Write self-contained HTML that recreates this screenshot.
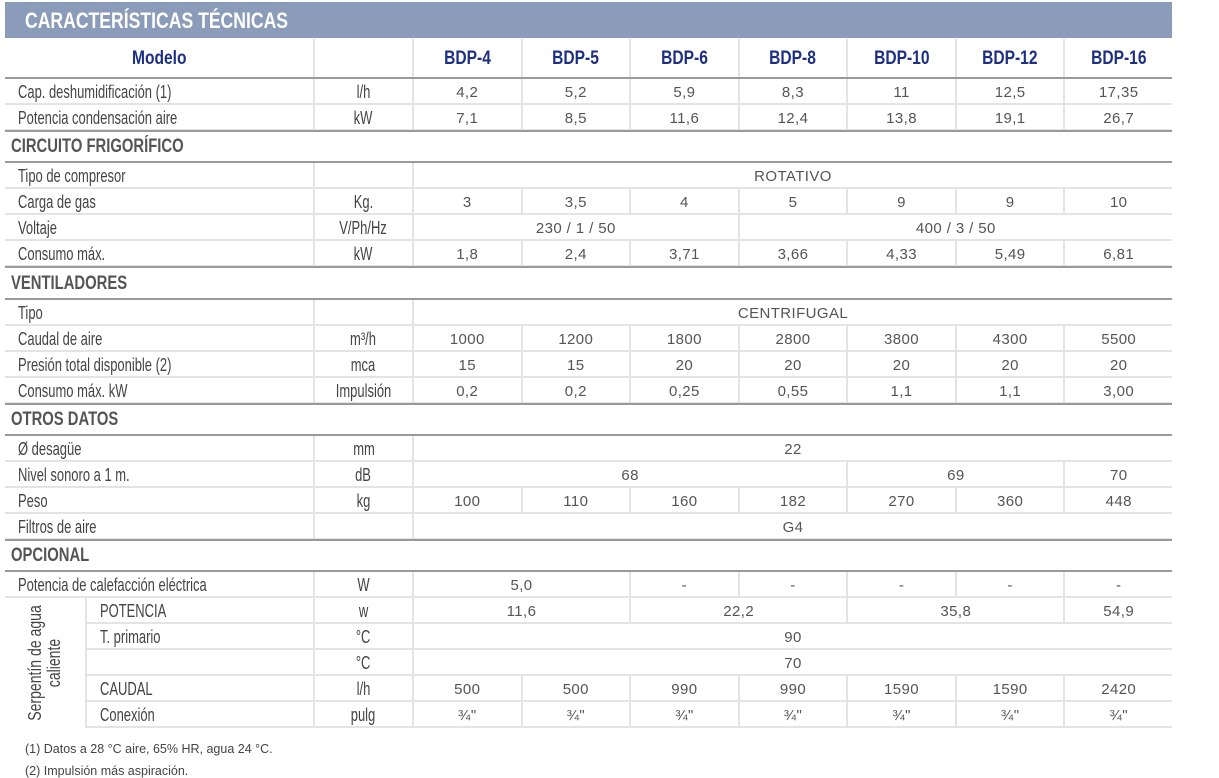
<!DOCTYPE html>
<html><head><meta charset="utf-8">
<style>
body{margin:0;width:1219px;height:778px;background:#fff;position:relative;overflow:hidden;font-family:"Liberation Sans",sans-serif}
.bar{position:absolute;left:5px;top:2px;width:1167px;height:36px;background:#8a9cb9;color:#fff;font-weight:bold;font-size:22px;line-height:38px;padding-left:20px;box-sizing:border-box}
.bar span{display:inline-block;transform:scaleX(.8);transform-origin:left}
.r{position:absolute;left:5px;width:1167px;height:26px;display:flex}
.c{box-sizing:border-box;height:100%;border-left:2px solid #e4e4e4;border-bottom:2px solid #e4e4e4;text-align:center;font-size:15px;color:#555;line-height:27px;letter-spacing:0.4px;white-space:nowrap}
.c:first-child{border-left:none}
.l{width:308px;text-align:left;padding-left:13px;font-size:18px;color:#444;letter-spacing:0}
.l span{display:inline-block;transform:scaleX(.72);transform-origin:left}
.u{width:99px;font-size:18px;color:#444;letter-spacing:0}
.u span{display:inline-block;transform:scaleX(.72);transform-origin:center}
.d{width:108.6px}.d2{width:217.2px}.d3{width:325.8px}.d4{width:434.4px}.d7{width:760px}
.sec{position:absolute;left:5px;width:1167px;font-weight:bold;font-size:19px;color:#555;padding-left:6px;box-sizing:border-box}
.sec span{display:inline-block;transform:scaleX(.78);transform-origin:left}
.ln{position:absolute;left:5px;width:1167px;height:2px;background:#9a9a9a}
.hdr .c{font-weight:bold;font-size:19px;color:#1d2f82;line-height:40px;border-bottom:none;letter-spacing:0}
.hdr .c span{display:inline-block;transform:scaleX(.82)}
.s0{width:80px;border-bottom:none!important}
.sl{width:228px;border-left:2px solid #e4e4e4!important}
.vt{position:absolute;left:5px;top:598px;width:80px;height:130px;display:flex;align-items:center;justify-content:center}
.vt span{transform:rotate(-90deg) scaleX(.78);white-space:nowrap;text-align:center;font-size:18px;color:#444;line-height:19px}
.fn{position:absolute;left:25px;font-size:12.5px;color:#444}
</style></head><body>
<div class="bar"><span>CARACTERÍSTICAS TÉCNICAS</span></div>
<div class="r hdr" style="top:39px;height:38px"><div class="c l" style="text-align:center;padding:0"><span style="transform-origin:center">Modelo</span></div><div class="c u"></div><div class="c d"><span>BDP-4</span></div><div class="c d"><span>BDP-5</span></div><div class="c d"><span>BDP-6</span></div><div class="c d"><span>BDP-8</span></div><div class="c d"><span>BDP-10</span></div><div class="c d"><span>BDP-12</span></div><div class="c d"><span>BDP-16</span></div></div>
<div class="ln" style="top:77px"></div>
<div class="r" style="top:79px"><div class="c l"><span>Cap. deshumidificación (1)</span></div><div class="c u"><span>l/h</span></div><div class="c d">4,2</div><div class="c d">5,2</div><div class="c d">5,9</div><div class="c d">8,3</div><div class="c d">11</div><div class="c d">12,5</div><div class="c d">17,35</div></div>
<div class="r" style="top:105px"><div class="c l"><span>Potencia condensación aire</span></div><div class="c u"><span>kW</span></div><div class="c d">7,1</div><div class="c d">8,5</div><div class="c d">11,6</div><div class="c d">12,4</div><div class="c d">13,8</div><div class="c d">19,1</div><div class="c d">26,7</div></div>
<div class="ln" style="top:130px"></div>
<div class="sec" style="top:136px"><span>CIRCUITO FRIGORÍFICO</span></div>
<div class="ln" style="top:161px"></div>
<div class="r" style="top:163px"><div class="c l"><span>Tipo de compresor</span></div><div class="c u"></div><div class="c d7">ROTATIVO</div></div>
<div class="r" style="top:189px"><div class="c l"><span>Carga de gas</span></div><div class="c u"><span>Kg.</span></div><div class="c d">3</div><div class="c d">3,5</div><div class="c d">4</div><div class="c d">5</div><div class="c d">9</div><div class="c d">9</div><div class="c d">10</div></div>
<div class="r" style="top:215px"><div class="c l"><span>Voltaje</span></div><div class="c u"><span>V/Ph/Hz</span></div><div class="c d3">230 / 1 / 50</div><div class="c d4">400 / 3 / 50</div></div>
<div class="r" style="top:241px"><div class="c l"><span>Consumo máx.</span></div><div class="c u"><span>kW</span></div><div class="c d">1,8</div><div class="c d">2,4</div><div class="c d">3,71</div><div class="c d">3,66</div><div class="c d">4,33</div><div class="c d">5,49</div><div class="c d">6,81</div></div>
<div class="ln" style="top:266px"></div>
<div class="sec" style="top:273px"><span>VENTILADORES</span></div>
<div class="ln" style="top:298px"></div>
<div class="r" style="top:300px"><div class="c l"><span>Tipo</span></div><div class="c u"></div><div class="c d7">CENTRIFUGAL</div></div>
<div class="r" style="top:326px"><div class="c l"><span>Caudal de aire</span></div><div class="c u"><span>m³/h</span></div><div class="c d">1000</div><div class="c d">1200</div><div class="c d">1800</div><div class="c d">2800</div><div class="c d">3800</div><div class="c d">4300</div><div class="c d">5500</div></div>
<div class="r" style="top:352px"><div class="c l"><span>Presión total disponible (2)</span></div><div class="c u"><span>mca</span></div><div class="c d">15</div><div class="c d">15</div><div class="c d">20</div><div class="c d">20</div><div class="c d">20</div><div class="c d">20</div><div class="c d">20</div></div>
<div class="r" style="top:378px"><div class="c l"><span>Consumo máx. kW</span></div><div class="c u"><span>Impulsión</span></div><div class="c d">0,2</div><div class="c d">0,2</div><div class="c d">0,25</div><div class="c d">0,55</div><div class="c d">1,1</div><div class="c d">1,1</div><div class="c d">3,00</div></div>
<div class="ln" style="top:403px"></div>
<div class="sec" style="top:409px"><span>OTROS DATOS</span></div>
<div class="ln" style="top:434px"></div>
<div class="r" style="top:436px"><div class="c l"><span>Ø desagüe</span></div><div class="c u"><span>mm</span></div><div class="c d7">22</div></div>
<div class="r" style="top:462px"><div class="c l"><span>Nivel sonoro a 1 m.</span></div><div class="c u"><span>dB</span></div><div class="c d4">68</div><div class="c d2">69</div><div class="c d">70</div></div>
<div class="r" style="top:488px"><div class="c l"><span>Peso</span></div><div class="c u"><span>kg</span></div><div class="c d">100</div><div class="c d">110</div><div class="c d">160</div><div class="c d">182</div><div class="c d">270</div><div class="c d">360</div><div class="c d">448</div></div>
<div class="r" style="top:514px"><div class="c l"><span>Filtros de aire</span></div><div class="c u"></div><div class="c d7">G4</div></div>
<div class="ln" style="top:539px"></div>
<div class="sec" style="top:545px"><span>OPCIONAL</span></div>
<div class="ln" style="top:570px"></div>
<div class="r" style="top:572px"><div class="c l"><span>Potencia de calefacción eléctrica</span></div><div class="c u"><span>W</span></div><div class="c d2">5,0</div><div class="c d">-</div><div class="c d">-</div><div class="c d">-</div><div class="c d">-</div><div class="c d">-</div></div>
<div class="r" style="top:598px"><div class="c s0"></div><div class="c l sl"><span>POTENCIA</span></div><div class="c u"><span>w</span></div><div class="c d2">11,6</div><div class="c d2">22,2</div><div class="c d2">35,8</div><div class="c d">54,9</div></div>
<div class="r" style="top:624px"><div class="c s0"></div><div class="c l sl"><span>T. primario</span></div><div class="c u"><span>°C</span></div><div class="c d7">90</div></div>
<div class="r" style="top:650px"><div class="c s0"></div><div class="c l sl"></div><div class="c u"><span>°C</span></div><div class="c d7">70</div></div>
<div class="r" style="top:676px"><div class="c s0"></div><div class="c l sl"><span>CAUDAL</span></div><div class="c u"><span>l/h</span></div><div class="c d">500</div><div class="c d">500</div><div class="c d">990</div><div class="c d">990</div><div class="c d">1590</div><div class="c d">1590</div><div class="c d">2420</div></div>
<div class="r" style="top:702px"><div class="c s0"></div><div class="c l sl"><span>Conexión</span></div><div class="c u"><span>pulg</span></div><div class="c d">¾"</div><div class="c d">¾"</div><div class="c d">¾"</div><div class="c d">¾"</div><div class="c d">¾"</div><div class="c d">¾"</div><div class="c d">¾"</div></div>
<div class="vt"><span>Serpentín de agua<br>caliente</span></div>
<div class="fn" style="top:742px">(1) Datos a 28 °C aire, 65% HR, agua 24 °C.</div>
<div class="fn" style="top:764px">(2) Impulsión más aspiración.</div>
</body></html>
